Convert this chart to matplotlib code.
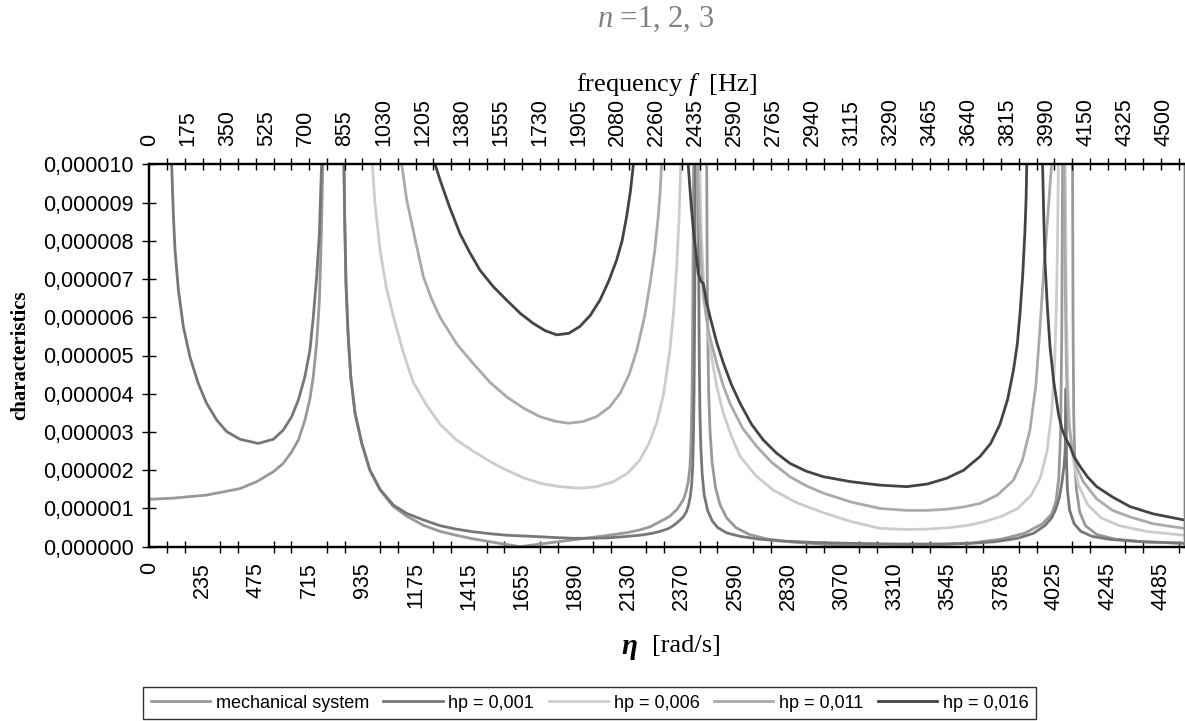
import numpy as np
import matplotlib.pyplot as plt
from matplotlib.lines import Line2D

plt.rcParams['mathtext.fontset'] = 'custom'
plt.rcParams['mathtext.rm'] = 'Liberation Serif'
plt.rcParams['mathtext.it'] = 'Liberation Serif:italic'

# values in units of 1e-6, eta in rad/s (values above 10 run off the chart)
eta_mech = [0, 106, 254, 402, 476, 550, 594, 631, 661, 690, 712, 727, 742, 754, 761, 766, 769, 772,
            815, 860, 863, 866, 872, 881, 893, 912, 942, 978, 1023, 1082, 1141, 1215, 1289, 1360,
            1422, 1500, 1570, 1620, 1643, 1720, 1800, 1880, 1960, 2050, 2120, 2175, 2220, 2249,
            2285, 2308, 2340, 2367, 2380, 2389, 2397, 2402, 2406, 2409, 2411, 2413, 2416, 2440,
            2468, 2471, 2473, 2476, 2480, 2486, 2495, 2510, 2530, 2560, 2600, 2660, 2740, 2850,
            3000, 3150, 3250, 3350, 3500, 3650, 3780, 3880, 3960, 4000, 4020, 4032, 4040, 4045,
            4049, 4052, 4070, 4090, 4093, 4095, 4098, 4103, 4110, 4125, 4150, 4200, 4280, 4400,
            4587]
val_mech = [1.24, 1.27, 1.35, 1.52, 1.70, 1.96, 2.18, 2.48, 2.79, 3.31, 3.87, 4.45, 5.32, 6.45, 7.76,
            9.07, 10, 11, 40, 11, 10, 8.63, 6.88, 5.58, 4.45, 3.49, 2.70, 2.0, 1.48, 1.05, 0.80,
            0.56, 0.40, 0.30, 0.22, 0.14, 0.07, 0.025, 0.0, 0.06, 0.12, 0.18, 0.24, 0.31, 0.37,
            0.44, 0.52, 0.61, 0.72, 0.80, 0.98, 1.22, 1.45, 1.7, 2.1, 2.8, 4.0, 6.0, 8.0, 10, 12,
            40, 12, 10, 7.5, 5.5, 4.0, 3.0, 2.2, 1.55, 1.1, 0.75, 0.5, 0.32, 0.2, 0.12, 0.06,
            0.02, 0.0, 0.02, 0.05, 0.1, 0.2, 0.35, 0.6, 0.85, 1.2, 1.8, 3.0, 5.5, 10, 12, 40,
            12, 10, 6.0, 3.5, 2.2, 1.5, 0.9, 0.55, 0.32, 0.2, 0.13, 0.09]

eta_hp001 = [99, 102, 107, 114, 129, 151, 180, 217, 254, 299, 343, 402, 483, 550, 594, 631, 661,
             690, 712, 727, 742, 754, 761, 764, 768, 815, 860, 863, 866, 872, 881, 893, 912, 942,
             978, 1023, 1082, 1141, 1215, 1289, 1360, 1436, 1510, 1584, 1660, 1732, 1800, 1880,
             1950, 2028, 2100, 2175, 2230, 2264, 2300, 2323, 2350, 2367, 2380, 2389, 2398, 2404,
             2409, 2412, 2415, 2417, 2419, 2421, 2426, 2431, 2434, 2436, 2438, 2441, 2445, 2451,
             2460, 2475, 2495, 2520, 2560, 2620, 2700, 2800, 2950, 3100, 3300, 3500, 3650, 3750,
             3850, 3920, 3970, 4000, 4020, 4035, 4045, 4055, 4060, 4062, 4064, 4066, 4070, 4080,
             4100, 4130, 4180, 4260, 4400, 4587]
val_hp001 = [10, 9.50, 8.63, 7.76, 6.71, 5.75, 4.97, 4.27, 3.75, 3.31, 3.01, 2.81, 2.70, 2.81,
             3.05, 3.40, 3.84, 4.45, 5.14, 6.01, 7.06, 8.19, 9.50, 10, 11, 40, 11, 10, 8.63,
             6.88, 5.58, 4.45, 3.49, 2.70, 2.0, 1.50, 1.09, 0.87, 0.70, 0.55, 0.46, 0.39, 0.34,
             0.30, 0.28, 0.26, 0.24, 0.22, 0.22, 0.23, 0.26, 0.30, 0.35, 0.40, 0.47, 0.55, 0.68,
             0.78, 0.90, 1.05, 1.3, 1.6, 2.1, 2.8, 4.0, 5.5, 7.5, 10, 12, 12, 10, 7.0, 5.0, 3.5,
             2.6, 1.9, 1.35, 0.95, 0.68, 0.5, 0.36, 0.27, 0.2, 0.15, 0.11, 0.09, 0.07, 0.07, 0.09,
             0.13, 0.22, 0.35, 0.55, 0.75, 1.0, 1.3, 1.65, 2.1, 2.5, 3.2, 4.14, 2.3, 1.5, 0.95,
             0.6, 0.4, 0.27, 0.19, 0.13, 0.09]

eta_hp006 = [989, 1000, 1023, 1050, 1082, 1125, 1170, 1230, 1289, 1360, 1436, 1510, 1584, 1660,
             1732, 1820, 1909, 1983, 2057, 2120, 2175, 2215, 2249, 2280, 2308, 2325, 2338, 2348,
             2356, 2362, 2400, 2436, 2440, 2447, 2460, 2475, 2486, 2515, 2545, 2580, 2619, 2690,
             2766, 2870, 2988, 3110, 3239, 3350, 3450, 3550, 3630, 3700, 3780, 3850, 3910, 3950,
             3980, 4000, 4012, 4020, 4026, 4030, 4034, 4045, 4058, 4062, 4066, 4072, 4080, 4095,
             4120, 4160, 4220, 4300, 4420, 4587]
val_hp006 = [10, 9.0, 7.76, 6.8, 6.02, 5.1, 4.3, 3.7, 3.2, 2.8, 2.5, 2.23, 2.0, 1.8, 1.66, 1.57,
             1.53, 1.57, 1.70, 1.92, 2.27, 2.7, 3.23, 4.0, 5.14, 6.2, 7.32, 8.5, 10, 11, 40, 11,
             10, 8.2, 6.6, 5.7, 5.2, 4.2, 3.49, 2.9, 2.36, 1.85, 1.48, 1.15, 0.89, 0.66, 0.48,
             0.45, 0.46, 0.5, 0.56, 0.65, 0.8, 1.0, 1.35, 1.8, 2.5, 3.5, 4.6, 6.0, 7.8, 10, 11,
             40, 11, 9.0, 6.0, 4.2, 3.1, 2.3, 1.6, 1.1, 0.75, 0.55, 0.4, 0.3]

eta_hp011 = [1119, 1141, 1180, 1215, 1250, 1289, 1363, 1436, 1510, 1584, 1660, 1732, 1800, 1857,
             1920, 1983, 2040, 2087, 2127, 2161, 2195, 2220, 2240, 2256, 2265, 2271, 2280, 2350,
             2424, 2430, 2437, 2445, 2456, 2480, 2515, 2545, 2574, 2630, 2693, 2760, 2840, 2910,
             2988, 3110, 3239, 3358, 3450, 3535, 3610, 3683, 3760, 3831, 3870, 3904, 3930, 3948,
             3965, 3985, 4000, 4010, 4030, 4050, 4055, 4060, 4066, 4075, 4090, 4110, 4140, 4200,
             4270, 4347, 4450, 4587]
val_hp011 = [10, 9.07, 8.0, 7.06, 6.5, 6.0, 5.3, 4.79, 4.3, 3.92, 3.62, 3.40, 3.28, 3.23, 3.27,
             3.40, 3.65, 4.01, 4.5, 5.14, 6.0, 6.88, 7.7, 8.63, 9.3, 10, 11, 40, 11, 10, 8.8, 7.6,
             6.54, 5.6, 4.8, 4.2, 3.75, 3.1, 2.62, 2.2, 1.83, 1.6, 1.4, 1.17, 1.0, 0.95, 0.95,
             0.98, 1.04, 1.13, 1.35, 1.74, 2.25, 3.05, 4.2, 5.66, 7.2, 8.8, 10, 11, 40, 11, 10,
             7.0, 4.5, 3.3, 2.6, 2.1, 1.7, 1.25, 0.95, 0.78, 0.6, 0.48]

eta_hp016 = [1267, 1289, 1330, 1377, 1420, 1466, 1525, 1584, 1645, 1702, 1755, 1806, 1860, 1909,
             1955, 1998, 2037, 2072, 2096, 2116, 2133, 2146, 2152, 2270, 2385, 2389, 2400, 2412,
             2434, 2445, 2456, 2470, 2486, 2515, 2545, 2580, 2619, 2670, 2722, 2780, 2840, 2910,
             2988, 3110, 3239, 3358, 3450, 3535, 3610, 3683, 3730, 3771, 3805, 3831, 3848, 3860,
             3872, 3882, 3887, 3890, 3893, 3925, 3957, 3960, 3965, 3971, 3982, 3993, 4010, 4030,
             4045, 4059, 4070, 4082, 4100, 4126, 4160, 4200, 4270, 4347, 4450, 4587]
val_hp016 = [10, 9.59, 8.9, 8.19, 7.7, 7.23, 6.8, 6.45, 6.1, 5.84, 5.65, 5.54, 5.58, 5.76, 6.05,
             6.45, 6.95, 7.5, 8.0, 8.63, 9.3, 10, 10.5, 40, 11, 10, 9.1, 8.28, 7.14, 6.95, 6.88,
             6.4, 6.01, 5.35, 4.8, 4.25, 3.75, 3.2, 2.79, 2.45, 2.18, 1.98, 1.83, 1.7, 1.61, 1.57,
             1.64, 1.79, 2.0, 2.36, 2.7, 3.2, 3.85, 4.62, 5.3, 6.1, 7.1, 8.28, 9.1, 10, 11, 40,
             11, 10, 8.7, 7.41, 6.2, 5.23, 4.3, 3.49, 3.1, 2.88, 2.75, 2.62, 2.35, 2.1, 1.82,
             1.57, 1.3, 1.05, 0.86, 0.7]

series = [
    ('mechanical system', eta_mech, val_mech, '#999999'),
    ('hp = 0,001', eta_hp001, val_hp001, '#777777'),
    ('hp = 0,006', eta_hp006, val_hp006, '#cccccc'),
    ('hp = 0,011', eta_hp011, val_hp011, '#aaaaaa'),
    ('hp = 0,016', eta_hp016, val_hp016, '#444444'),
]

eta_labels = ['0', '235', '475', '715', '935', '1175', '1415', '1655', '1890', '2130', '2370',
              '2590', '2830', '3070', '3310', '3545', '3785', '4025', '4245', '4485']
f_labels = ['0', '175', '350', '525', '700', '855', '1030', '1205', '1380', '1555', '1730', '1905',
            '2080', '2260', '2435', '2590', '2765', '2940', '3115', '3290', '3465', '3640', '3815',
            '3990', '4150', '4325', '4500']

W, H = 1185, 721
fig = plt.figure(figsize=(W / 100, H / 100), dpi=100)
x0, x1, y0, y1 = 149.3, 1184, 164.3, 546.7   # plot area in pixels
ax = fig.add_axes([x0 / W, 1 - y1 / H, (x1 - x0) / W, (y1 - y0) / H])

xmax = 4587
lab_step = 236.05      # spacing of category labels (bottom)
tick_step = lab_step / 3
top_step = 173.0

for name, xs, ys, col in series:
    ax.plot(xs, ys, color=col, lw=2.0, label=name, solid_joinstyle='round')

ax.set_xlim(0, xmax)
ax.set_ylim(0, 10)

font_sans = 'Liberation Sans'
ax.set_yticks(np.arange(0, 11, 1))
ax.set_yticklabels([('%.6f' % (v * 1e-6)).replace('.', ',') for v in range(11)],
                   family=font_sans, fontsize=15.5)
ax.set_xticks([i * lab_step for i in range(len(eta_labels))])
ax.set_xticklabels(eta_labels, rotation=90, family=font_sans, fontsize=15.5)
ax.set_xticks(np.arange(0, xmax, tick_step), minor=True)
ax.tick_params(axis='x', which='major', length=0, pad=11)
ax.tick_params(axis='x', which='minor', direction='inout', length=9, width=1, color='black')
ax.tick_params(axis='y', direction='inout', length=10, width=1, pad=6)

ax2 = ax.twiny()
ax2.set_xlim(0, xmax)
ax2.set_xticks([i * top_step for i in range(len(f_labels))])
ax2.set_xticklabels(f_labels, rotation=90, family=font_sans, fontsize=15.5)
ax2.set_xticks(np.arange(0, xmax, tick_step), minor=True)
ax2.tick_params(axis='x', which='major', length=0, pad=13)
ax2.tick_params(axis='x', which='minor', direction='inout', length=9, width=1, color='black')

for a in (ax, ax2):
    for s in ('left', 'bottom', 'top'):
        a.spines[s].set_linewidth(1.6)
        a.spines[s].set_color('black')
    a.spines['right'].set_color('#808080')
    a.spines['right'].set_linewidth(1.0)

serif = 'Liberation Serif'
fig.text(656 / W, 1 - 19 / H, r'$n$ =1, 2, 3', family=serif, fontsize=22, color='#808080',
         ha='center', va='center')
fig.text(666 / W, 1 - 84 / H, r'frequency $f$  [Hz]', family=serif, fontsize=19,
         ha='center', va='center')
fig.text(629 / W, 1 - 646 / H, '\u03b7', family=serif, fontsize=21, fontweight='bold',
         fontstyle='italic', ha='center', va='center')
fig.text(652 / W, 1 - 646 / H, '[rad/s]', family=serif, fontsize=19, ha='left', va='center')
fig.text(20 / W, 1 - 355 / H, 'characteristics', family=serif, fontsize=15, fontweight='bold',
         rotation=90, ha='center', va='center')

handles = [Line2D([], [], color=c, lw=2.0) for _, _, _, c in series]
leg = fig.legend(handles, [s[0] for s in series], loc='center', ncol=5,
                 bbox_to_anchor=(589.5 / W, 1 - 703 / H), bbox_transform=fig.transFigure,
                 prop={'family': font_sans, 'size': 13}, frameon=True, fancybox=False,
                 edgecolor='black', handlelength=3.3, handletextpad=0.3, columnspacing=0.8,
                 borderpad=0.4)
leg.get_frame().set_linewidth(1.0)

fig.savefig('out.png', dpi=100)
